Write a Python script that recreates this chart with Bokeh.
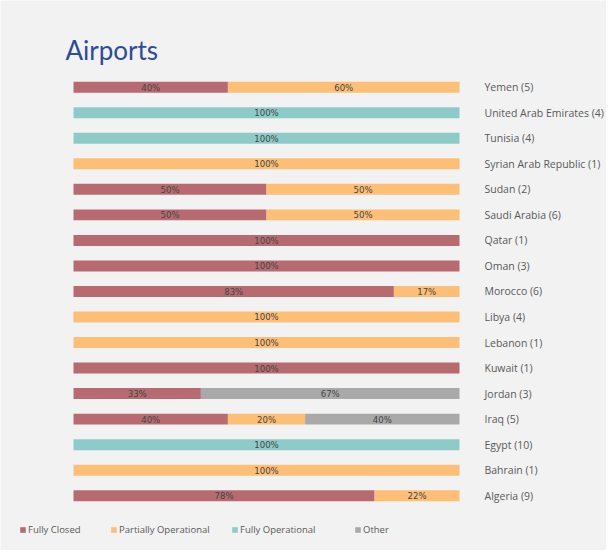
from bokeh.plotting import figure
from bokeh.models import ColumnDataSource, Range1d, Legend, LegendItem
from bokeh.core.properties import value
from bokeh.embed import file_html
from bokeh.resources import INLINE

# ---- data (bottom row first) ----
countries = ["Algeria (9)", "Bahrain (1)", "Egypt (10)", "Iraq (5)", "Jordan (3)",
             "Kuwait (1)", "Lebanon (1)", "Libya (4)", "Morocco (6)", "Oman (3)",
             "Qatar (1)", "Saudi Arabia (6)", "Sudan (2)", "Syrian Arab Republic (1)",
             "Tunisia (4)", "United Arab Emirates (4)", "Yemen (5)"]
fully_closed          = [78, 0, 0, 40, 33, 100, 0, 0, 83, 100, 100, 50, 50, 0, 0, 0, 40]
partially_operational = [22, 100, 0, 20, 0, 0, 100, 100, 17, 0, 0, 50, 50, 100, 0, 0, 60]
fully_operational     = [0, 0, 100, 0, 0, 0, 0, 0, 0, 0, 0, 0, 0, 0, 100, 100, 0]
other                 = [0, 0, 0, 40, 67, 0, 0, 0, 0, 0, 0, 0, 0, 0, 0, 0, 0]
series = ["Fully Closed", "Partially Operational", "Fully Operational", "Other"]
colors = ["#b76b70", "#fdbe76", "#8ccbc8", "#a9a9a9"]
title_text = "Airports"

keys = ["closed", "partial", "operational", "other"]
vals = [fully_closed, partially_operational, fully_operational, other]
pos = list(range(len(countries)))
src = ColumnDataSource(dict(pos=pos, country=countries,
                            closed=fully_closed, partial=partially_operational,
                            operational=fully_operational, other=other))

# ---- figure: frame covers the whole canvas ----
p = figure(width=606, height=550, output_backend="svg", toolbar_location=None,
           x_range=Range1d(-18.912, 138.083), y_range=Range1d(-2.146, 19.397),
           x_axis_location=None, y_axis_location=None, min_border=0)
p.background_fill_color = "#f2f2f2"
p.border_fill_color = "#f2f2f2"
p.outline_line_color = None
p.grid.visible = False

rs = p.hbar_stack(keys, y="pos", height=0.43, color=colors, line_color=None, source=src)

# percentage labels in segments
lx, ly, lt = [], [], []
for i in range(len(countries)):
    cum = 0
    for v in [s[i] for s in vals]:
        if v > 0:
            lx.append(cum + v / 2)
            ly.append(pos[i])
            lt.append(f"{v}%")
        cum += v
p.text(x=lx, y=ly, text=lt, text_align="center", text_baseline="middle",
       text_font=value("'DejaVu Sans Condensed', 'DejaVu Sans'"), text_font_size="9.5px",
       text_color="#454545")

# country labels to the right of bars
totals = [sum(s[i] for s in vals) for i in range(len(countries))]
p.text(x=totals, y=pos, text=countries, x_offset=25, text_align="left",
       text_baseline="middle", text_font=value("Open Sans"), text_font_size="10.5px",
       text_color="#595959")

# title
p.text(x=[0], y=[pos[-1]], text=[title_text], x_offset=-8, y_offset=-36.8,
       text_align="left", text_baseline="alphabetic", text_font=value("Lato"),
       text_font_size="26px", text_color="#2e4a9d")

# legend (individually placed items)
legend_x = [19, 110, 231, 354]
for r, name, lxp in zip(rs, series, legend_x):
    leg = Legend(items=[LegendItem(label=name, renderers=[r])], location=(lxp, 14),
                 orientation="horizontal", glyph_width=7, glyph_height=7,
                 label_standoff=2, padding=0, margin=0, spacing=0,
                 background_fill_alpha=0, border_line_color=None,
                 label_text_font="Open Sans", label_text_font_size="9.5px",
                 label_text_color="#595959", label_height=10)
    p.add_layout(leg)

open("out.html", "w").write(file_html(p, INLINE))
